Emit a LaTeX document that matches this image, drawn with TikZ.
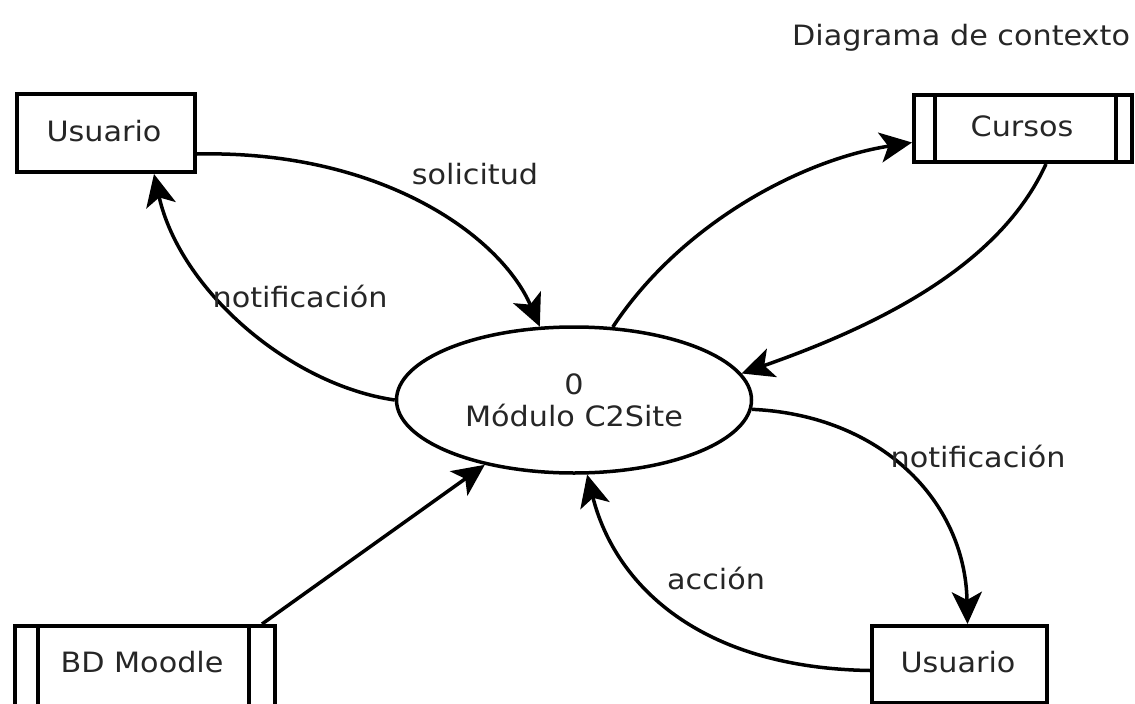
\documentclass[tikz,border=0pt]{standalone}
\usepackage{fontspec}
\setmainfont{DejaVu Sans}[FakeStretch=1.08]
\usetikzlibrary{arrows.meta,shapes.geometric}
\begin{document}
\begin{tikzpicture}[x=1pt,y=-1pt,
  every node/.style={font=\fontsize{28}{34}\selectfont, text=black!85},
  entity/.style={draw=black, line width=4pt, fill=white, inner sep=0pt, anchor=north west},
  process/.style={ellipse, draw=black, line width=3.5pt, fill=white, inner sep=0pt,
    minimum width=355pt, minimum height=146pt, align=center},
  flow/.style={line width=3.5pt, -{Stealth[length=32pt,width=30pt,inset=8pt]}},
  lbl/.style={fill=none}]
\fill[white] (0,0) rectangle (1135,704);
\clip (0,0) rectangle (1135,704);

% external entities and data stores
\node[entity, minimum width=178pt, minimum height=78pt] (u1) at (15,92) {};
\node at (104,131) {Usuario};
\node[entity, minimum width=218pt, minimum height=67pt] (cur) at (912,93) {};
\node at (1022,126) {Cursos};
\draw[line width=4pt] ([xshift=23pt]cur.north west) -- ([xshift=23pt]cur.south west);
\draw[line width=4pt] ([xshift=-18pt]cur.north east) -- ([xshift=-18pt]cur.south east);
\node[entity, minimum width=260pt, minimum height=100pt] (bd) at (13,624) {};
\node at (142,662) {BD Moodle};
\draw[line width=4pt] ([xshift=25pt]bd.north west) -- ([xshift=25pt]bd.south west);
\draw[line width=4pt] ([xshift=-28pt]bd.north east) -- ([xshift=-28pt]bd.south east);
\node[entity, minimum width=175pt, minimum height=77pt] (u2) at (870,624) {};
\node at (958,662) {Usuario};

% central process
\node[process] (mod) at (574,400) {0\\[-2pt]Módulo C2Site};

% data flows
\draw[flow] ([yshift=-21pt]u1.east) .. controls (380,150) and (500,235) .. (mod.115);
\draw[flow] (mod.west) .. controls (290,385) and (180,290) .. ([xshift=48pt]u1.south);
\draw[flow] (mod.62) .. controls (680,225) and (800,160) .. ([yshift=-14pt]cur.west);
\draw[flow] ([xshift=23pt]cur.south) .. controls (1000,265) and (880,325) .. (mod.9);
\draw[flow] (mod.-3) .. controls (880,415) and (965,500) .. ([xshift=8pt]u2.north);
\draw[flow] ([yshift=-6pt]u2.west) .. controls (700,668) and (615,585) .. (mod.-80);
\draw[flow] ([xshift=-15pt]bd.north east) -- (mod.-144);

% flow labels
\node[lbl] at (475,174) {solicitud};
\node[lbl] at (300,296) {notificación};
\node[lbl] at (978,456) {notificación};
\node[lbl] at (716,578) {acción};
\node[lbl] at (961,38) {Diagrama de contexto};
\end{tikzpicture}
\end{document}
